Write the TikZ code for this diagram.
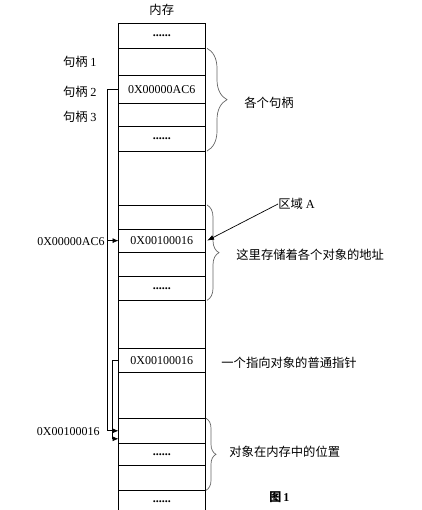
\documentclass[tikz,border=0pt]{standalone}
\usepackage{fontspec}
\setmainfont{Liberation Serif}
\newfontfamily\cjk{Noto Sans CJK SC}
\usetikzlibrary{arrows.meta, positioning, decorations.pathreplacing}
\newcommand{\dd}{\textbf{......}}
\tikzset{
  every picture/.style={line width=0.8pt},
  cell/.style={draw, minimum width=86.5pt, inner sep=0pt, outer sep=0pt, font=\fontsize{12}{14}\selectfont},
  lbl/.style={font=\cjk\fontsize{12.3}{14}\selectfont, inner sep=0pt},
  addr/.style={font=\fontsize{12}{14}\selectfont, inner sep=0pt},
  wire/.style={draw, line width=0.7pt},
  tip/.style={-{Latex[length=6pt, width=5pt]}},
  brace/.style={decorate, decoration={brace, amplitude=#1}, draw=black!60, line width=0.7pt},
}

\begin{document}
\begin{tikzpicture}[x=1pt, y=-1pt]
  \clip (0,0) rectangle (421,510);
  % the memory column, top to bottom (top/bottom/content)
  \foreach \t/\b/\txt [count=\i] in {23.3/48.3/\dd, 48.3/75.7/{}, 75.7/103.3/0X00000AC6,
      103.3/126/{}, 126/151/\dd, 151/205/{}, 205/229.3/{}, 229.3/252/0X00100016,
      252/276.7/{}, 276.7/300.3/\dd, 300.3/348.3/{}, 348.3/372.3/0X00100016,
      372.3/418.3/{}, 418.3/443.3/{}, 443.3/465.3/\dd, 465.3/490.3/{}, 490.3/514/\dd} {
    \pgfmathsetmacro\h{\b-\t}
    \node[cell, minimum height=\h pt] (c\i) at (161.75,{(\t+\b)/2}) {\txt};
  }
  \node[lbl, above=7pt of c1] (mem) {内存};

  % handles on the left
  \node[lbl, anchor=east] (h1) at (97,62) {句柄 {\rmfamily 1}};
  \node[lbl, anchor=east] (h2) at (97,92) {句柄 {\rmfamily 2}};
  \node[lbl, anchor=east] (h3) at (97,117) {句柄 {\rmfamily 3}};
  \node[addr, anchor=east] (pa) at (105,242) {0X00000AC6};
  \node[addr, anchor=east] (pb) at (100,432) {0X00100016};

  % braces and notes on the right
  \draw[brace=20] ([xshift=2pt]c2.north east) -- ([xshift=2pt]c5.south east);
  \draw[brace=12] ([xshift=2pt]c7.north east) -- ([xshift=2pt]c10.south east);
  \draw[brace=10] ([xshift=1pt]c14.north east) -- ([xshift=1pt]c16.south east);
  \node[lbl, anchor=west] (n1) at (244,103) {各个句柄};
  \node[lbl, anchor=west] (regA) at (278,204) {区域 {\rmfamily A}};
  \node[lbl, anchor=west] (n2) at (236,255) {这里存储着各个对象的地址};
  \node[lbl, anchor=west] (n3) at (221,363) {一个指向对象的普通指针};
  \node[lbl, anchor=west] (n4) at (229,452) {对象在内存中的位置};
  \node[font=\bfseries\fontsize{12}{14}\selectfont, inner sep=0pt, anchor=west] (fig) at (269,497) {{\cjk 图}\,1};
  \draw[wire, -{Latex[length=7pt, width=5pt]}] (regA.west) -- ([xshift=2pt]c8.east);

  % pointer lines
  \coordinate (bus1) at (107,0);
  \coordinate (bus2) at (112,0);
  \coordinate (in2) at ([yshift=-8pt]c14.west);
  \draw[wire, tip] (c3.west) -| (bus1 |- c8.west) -- (c8.west);
  \draw[wire, tip] (bus1 |- c8.west) |- (c14.west);
  \draw[wire, tip] (c12.west) -| (bus2 |- in2) -- (in2);
\end{tikzpicture}
\end{document}
